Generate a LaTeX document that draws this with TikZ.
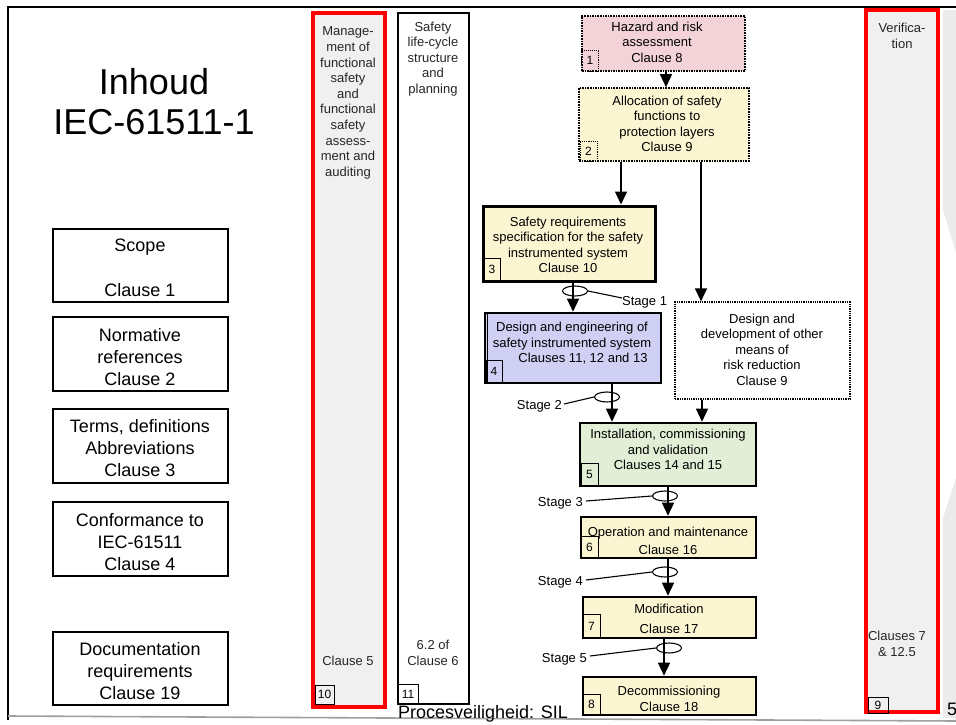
\documentclass[tikz,border=0pt]{standalone}
\usepackage{fontspec}
\setmainfont{Liberation Sans}
\usetikzlibrary{arrows.meta,shapes.geometric,calc}
\definecolor{pinkfill}{HTML}{F4D3D8}
\definecolor{yelfill}{HTML}{FCF5D2}
\definecolor{bluefill}{HTML}{CFD0F4}
\definecolor{greenfill}{HTML}{E2EFD6}
\definecolor{greyfill}{HTML}{F0F0F0}
\definecolor{barred}{HTML}{FF0000}
\begin{document}
\begin{tikzpicture}[x=1pt,y=-1pt,
  txt/.style={font=\fontsize{13}{15.5}\selectfont, align=center, inner sep=0pt},
  bartxt/.style={font=\fontsize{13}{15.6}\selectfont, align=center, inner sep=0pt, text=black!85},
  lefttxt/.style={font=\fontsize{18}{22.3}\selectfont, align=center, inner sep=0pt},
  leftbox/.style={draw, line width=2pt, rectangle, inner sep=0pt, minimum width=175pt, minimum height=73pt},
  thickbox/.style={draw, line width=2.6pt, rectangle, inner sep=0pt},
  dotbox/.style={draw, densely dotted, line width=1.6pt, rectangle, inner sep=0pt},
  numbox/.style={draw, line width=0.9pt, rectangle, inner sep=0pt, font=\fontsize{12}{12}\selectfont},
  redbar/.style={draw=barred, line width=3.2pt, fill=greyfill, rectangle, inner sep=0pt},
  arr/.style={-{Triangle[length=13pt,width=12pt]}, line width=1.4pt},
  ell/.style={ellipse, draw, line width=1.1pt, minimum width=25pt, minimum height=10pt, inner sep=0pt},
  stg/.style={font=\fontsize{13}{15.5}\selectfont, inner sep=0pt},
  lead/.style={line width=1.1pt}
]
\useasboundingbox (0,0) rectangle (956,725);
\fill[white] (0,0) rectangle (956,725);

% right grey decoration
\fill[gray!16] (943,10) rectangle (956,718);
\fill[white] (943,210) -- (956,253) -- (956,477) -- (943,518) -- cycle;

% page frame
\draw[line width=2.6pt] (8,720) -- (8,7) -- (956,7);
\draw[gray!75, line width=1.6pt] (8,716) -- (956,721);

% title
\node[font=\fontsize{36}{40}\selectfont, align=center, inner sep=0pt] (title) at (154,102) {Inhoud\\IEC-61511-1};

% left boxes
\node[leftbox] (lb1) at (140.5,265.5) {};
\node[lefttxt] (lt1) at (140,268) {Scope\\[22.3pt]Clause 1};
\node[leftbox, minimum height=74pt] (lb2) at (140.5,354) {};
\node[lefttxt] (lt2) at (140,357) {Normative\\references\\Clause 2};
\node[leftbox, minimum height=74pt] (lb3) at (140.5,446) {};
\node[lefttxt] (lt3) at (140,448) {Terms, definitions\\Abbreviations\\Clause 3};
\node[leftbox, minimum height=74pt] (lb4) at (140.5,539) {};
\node[lefttxt] (lt4) at (140,542) {Conformance to\\IEC-61511\\Clause 4};
\node[leftbox, minimum height=73pt] (lb5) at (140.5,668.5) {};
\node[lefttxt] (lt5) at (140,671) {Documentation\\requirements\\Clause 19};

% vertical bars
\draw[line width=0.8pt] (311.5,11.5) rectangle (386,708);
\node[redbar, minimum width=72pt, minimum height=694pt] (bar10) at (349,360) {};
\node[bartxt] (bt10) at (348,103) {Manage-\\ment of\\functional\\safety\\and\\functional\\safety\\assess-\\ment and\\auditing};
\node[bartxt] (bc10) at (348,661) {Clause 5};
\node[numbox, minimum width=19pt, minimum height=19pt] (n10) at (324.5,694.5) {10};

\node[draw, line width=2pt, rectangle, inner sep=0pt, minimum width=71pt, minimum height=691pt] (bar11) at (433.5,358.5) {};
\node[bartxt] (bt11) at (433,59) {Safety\\life-cycle\\structure\\and\\planning};
\node[bartxt] (bc11) at (433,653) {6.2 of\\Clause 6};
\node[numbox, minimum width=20pt, minimum height=20pt] (n11) at (408,694) {11};

\draw[line width=0.8pt] (864.5,8.5) rectangle (939.5,713.5);
\node[redbar, minimum width=72pt, minimum height=702pt] (bar9) at (902,361) {};
\node[bartxt] (bt9) at (902,36) {Verifica-\\tion};
\node[bartxt] (bc9) at (897,644) {Clauses 7\\\& 12.5};
\node[numbox, minimum width=20pt, minimum height=16pt] (n9) at (878,705) {9};

% lifecycle boxes
\node[dotbox, fill=pinkfill, minimum width=163pt, minimum height=55pt] (b1) at (663.5,43.5) {};
\node[txt] (t1) at (657,42) {Hazard and risk\\assessment\\Clause 8};
\node[numbox, densely dotted, minimum width=17pt, minimum height=21pt] (n1) at (590,60.5) {1};

\node[dotbox, fill=yelfill, minimum width=170pt, minimum height=73pt] (b2) at (664,124.5) {};
\node[txt] (t2) at (667,124) {Allocation of safety\\functions to\\protection layers\\Clause 9};
\node[numbox, densely dotted, minimum width=17pt, minimum height=20pt] (n2) at (588.5,151) {2};

\node[thickbox, line width=3pt, fill=yelfill, minimum width=172pt, minimum height=75pt] (b3) at (569,243.5) {};
\node[txt] (t3) at (568,245) {Safety requirements\\specification for the safety\\instrumented system\\Clause 10\hspace{34pt}};
\node[numbox, minimum width=16pt, minimum height=23pt] (n3) at (492,269.5) {3};

\node[thickbox, fill=bluefill, minimum width=176pt, minimum height=70pt] (b4) at (573,348) {};
\draw[line width=1pt] ($(b4.north west)+(3.5,0)$) -- ($(b4.south west)+(3.5,0)$);
\node[txt] (t4) at (572,343.5) {Design and engineering of\\safety instrumented system\\\hspace{22pt}Clauses 11, 12 and 13};
\node[numbox, minimum width=16pt, minimum height=23pt] (n4) at (494,371.5) {4};

\node[dotbox, line width=1.3pt, fill=white, minimum width=175pt, minimum height=97pt] (bo) at (762.5,350.5) {};
\node[txt] (to) at (762,349.5) {Design and\\development of other\\means of\\risk reduction\\Clause 9};

\node[thickbox, fill=greenfill, minimum width=176pt, minimum height=63pt] (b5) at (668,454.5) {};
\node[txt] (t5) at (668,449.5) {Installation, commissioning\\and validation\\Clauses 14 and 15};
\node[numbox, minimum width=17pt, minimum height=23pt] (n5) at (589.5,474.5) {5};

\node[thickbox, fill=yelfill, minimum width=175pt, minimum height=41pt] (b6) at (668.5,537.5) {};
\node[txt, font=\fontsize{13}{18}\selectfont] (t6) at (668,541) {Operation and maintenance\\Clause 16};
\node[numbox, minimum width=17pt, minimum height=22pt] (n6) at (589.5,547) {6};

\node[thickbox, fill=yelfill, minimum width=173pt, minimum height=41pt] (b7) at (669.5,617.5) {};
\node[txt, font=\fontsize{13}{20}\selectfont] (t7) at (669,619) {Modification\\Clause 17};
\node[numbox, minimum width=17pt, minimum height=24pt] (n7) at (591.5,626) {7};

\node[thickbox, fill=yelfill, minimum width=173pt, minimum height=38pt] (b8) at (669.5,696) {};
\node[txt, font=\fontsize{13}{16}\selectfont] (t8) at (669,699) {Decommissioning\\Clause 18};
\node[numbox, minimum width=17pt, minimum height=21pt] (n8) at (591.5,704.5) {8};

% x positions of arrows
\coordinate (xa) at (666,0);
\coordinate (xb) at (621,0);
\coordinate (xc) at (701,0);
\coordinate (xd) at (573,0);
\coordinate (xe) at (612,0);
\coordinate (xf) at (702,0);
\coordinate (xg) at (668,0);
\coordinate (xh) at (664,0);

\draw[arr] (b1.south -| xa) -- (b2.north -| xa);
\draw[arr] (b2.south -| xb) -- (b3.north -| xb);
\draw[arr] (b2.south -| xc) -- (bo.north -| xc);
\draw[arr] (b3.south -| xd) -- (b4.north -| xd);
\draw[arr] (b4.south -| xe) -- (b5.north -| xe);
\draw[arr] (bo.south -| xf) -- (b5.north -| xf);
\draw[arr] (b5.south -| xg) -- (b6.north -| xg);
\draw[arr] (b6.south -| xg) -- (b7.north -| xg);
\draw[arr] (b7.south -| xh) -- (b8.north -| xh);

% stages
\node[ell] (e1) at (575,291) {};
\node[stg, anchor=west] (s1) at (622,302) {Stage 1};
\draw[lead] (e1.east) -- ($(s1.west)+(0,-4)$);

\node[ell] (e2) at (607,397) {};
\node[stg, anchor=east] (s2) at (562,406) {Stage 2};
\draw[lead] ($(s2.east)+(2,-2)$) -- (e2.west);

\node[ell] (e3) at (665,496) {};
\node[stg, anchor=east] (s3) at (583,503) {Stage 3};
\draw[lead] ($(s3.east)+(3,-2)$) -- (e3.west);

\node[ell] (e4) at (665,572) {};
\node[stg, anchor=east] (s4) at (583,582) {Stage 4};
\draw[lead] ($(s4.east)+(3,-2)$) -- (e4.west);

\node[ell] (e5) at (669,648) {};
\node[stg, anchor=east] (s5) at (587,659) {Stage 5};
\draw[lead] ($(s5.east)+(3,-3)$) -- (e5.west);

% footer
\node[font=\fontsize{18}{18}\selectfont, anchor=base west, inner sep=0pt] (foot) at (398,718) {Procesveiligheid: SIL};
\node[font=\fontsize{18}{18}\selectfont, anchor=base west, inner sep=0pt] (pg) at (947,715) {5};
\end{tikzpicture}
\end{document}
